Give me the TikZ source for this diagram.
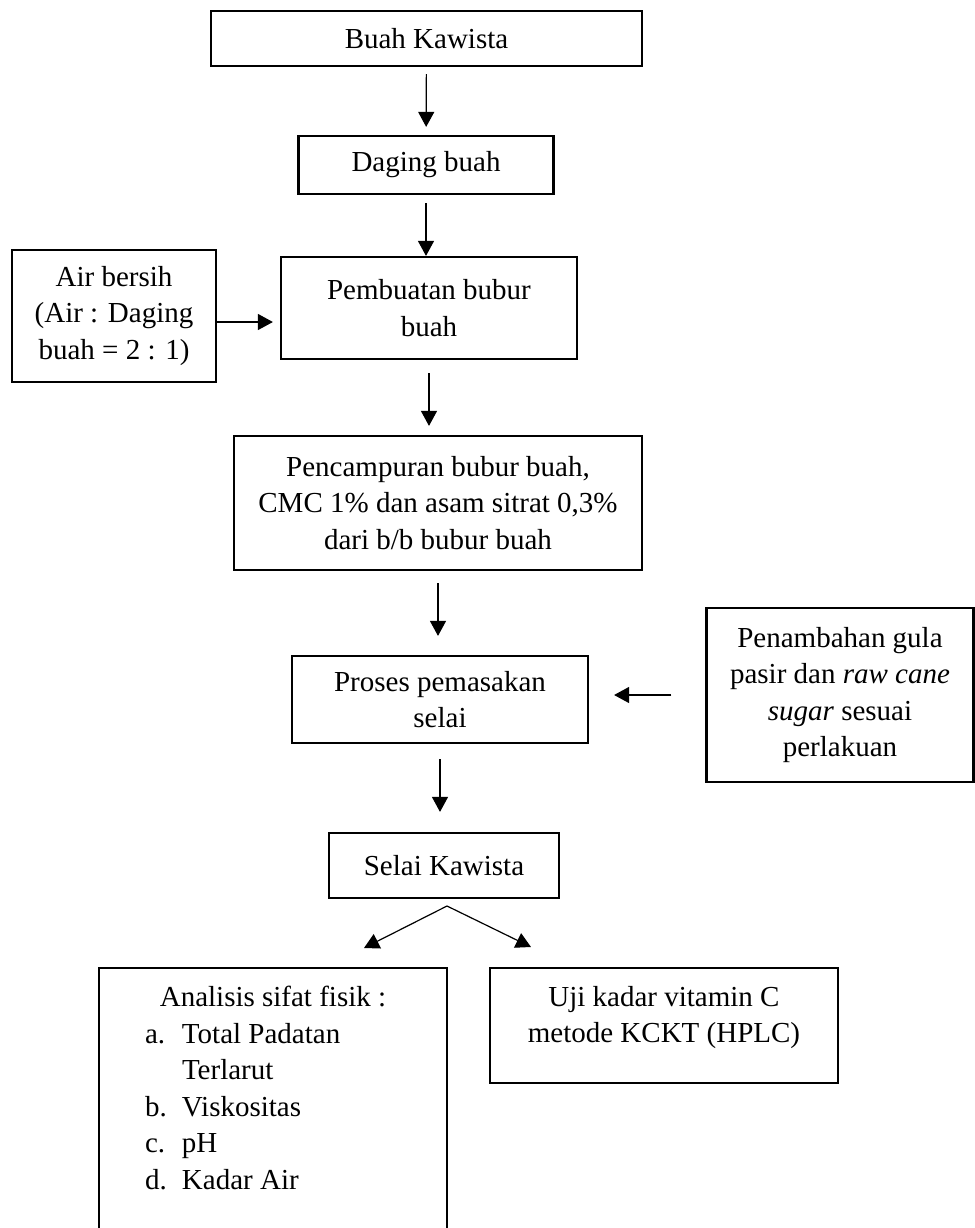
\documentclass[tikz,border=0pt]{standalone}
\usepackage{fontspec}
\setmainfont{Liberation Serif}
\usetikzlibrary{arrows.meta}
\tikzset{box/.style = {shape=rectangle,draw,line width=1.1pt,align=center,inner sep=5pt,font=\fontsize{14.5}{18.3}\selectfont}}
\tikzset{edge/.style = {line width=0.6pt,-{Triangle[length=7.5pt,width=8pt]}}}

\begin{document}
\begin{tikzpicture}[x=0.5pt,y=-0.5pt]
\useasboundingbox (0,0) rectangle (975,1228);
\clip (0,0) rectangle (975,1228);
% boxes
\node[box, minimum width=215.5pt, minimum height=27.5pt] (buah) at (426.5,38.5) {Buah Kawista};
\node[box, minimum width=127.5pt, minimum height=29pt] (daging) at (426,165) {Daging buah};
\node[box, minimum width=102pt, minimum height=66pt] (air) at (114,316) {Air bersih\\(Air : Daging\\buah = 2 : 1)};
\node[box, minimum width=148pt, minimum height=51pt] (bubur) at (429,308) {Pembuatan bubur\\buah};
\node[box, minimum width=204pt, minimum height=67pt] (campur) at (438,503) {Pencampuran bubur buah,\\CMC 1\% dan asam sitrat 0,3\%\\dari b/b bubur buah};
\node[box, minimum width=148pt, minimum height=43.5pt] (masak) at (440,699.5) {Proses pemasakan\\selai};
\node[box, minimum width=133.5pt, minimum height=87pt] (gula) at (840,695) {Penambahan gula\\pasir dan \textit{raw cane}\\\textit{sugar} sesuai\\perlakuan};
\node[box, minimum width=115pt, minimum height=32.5pt] (selai) at (444,865.5) {Selai Kawista};
\node[box, anchor=north, inner ysep=9pt, text width=164pt, align=flush left] (fisik) at (273,967) {\makebox[\linewidth][c]{Analisis sifat fisik :}\\
\hspace*{18pt}\makebox[18.5pt][l]{a.}Total Padatan\\
\hspace*{36.5pt}Terlarut\\
\hspace*{18pt}\makebox[18.5pt][l]{b.}Viskositas\\
\hspace*{18pt}\makebox[18.5pt][l]{c.}pH\\
\hspace*{18pt}\makebox[18.5pt][l]{d.}Kadar Air\rule[-60pt]{0pt}{60pt}};
\node[box, anchor=north, inner ysep=9pt, minimum width=174pt] (vitc) at (664,967) {Uji kadar vitamin C\\metode KCKT (HPLC)\rule[-11pt]{0pt}{11pt}};
% split
\coordinate (pisah) at (447,906);
\coordinate (kiri) at (364,948);
\coordinate (kanan) at (531,947);
%edges
\draw[edge, shorten <=3.5pt, shorten >=4pt] (buah) -- (daging);
\draw[edge, shorten <=4pt] (daging.south) -- (daging.south |- bubur.north);
\draw[edge, shorten >=3.5pt] ([yshift=-3pt]air.east) -- ([yshift=-3pt]air.east -| bubur.west);
\draw[edge, shorten <=6.5pt, shorten >=4.5pt] (bubur.south) -- (bubur.south |- campur.north);
\draw[edge, shorten <=6pt, shorten >=9.5pt] (campur.south) -- (campur.south |- masak.north);
\draw[edge, shorten <=17pt, shorten >=12.5pt] (gula.west) -- (gula.west -| masak.east);
\draw[edge, shorten <=7.5pt, shorten >=10pt] (masak.south) -- (masak.south |- selai.north);
\draw[edge] (pisah) -- (kiri);
\draw[edge] (pisah) -- (kanan);
\end{tikzpicture}
\end{document}
